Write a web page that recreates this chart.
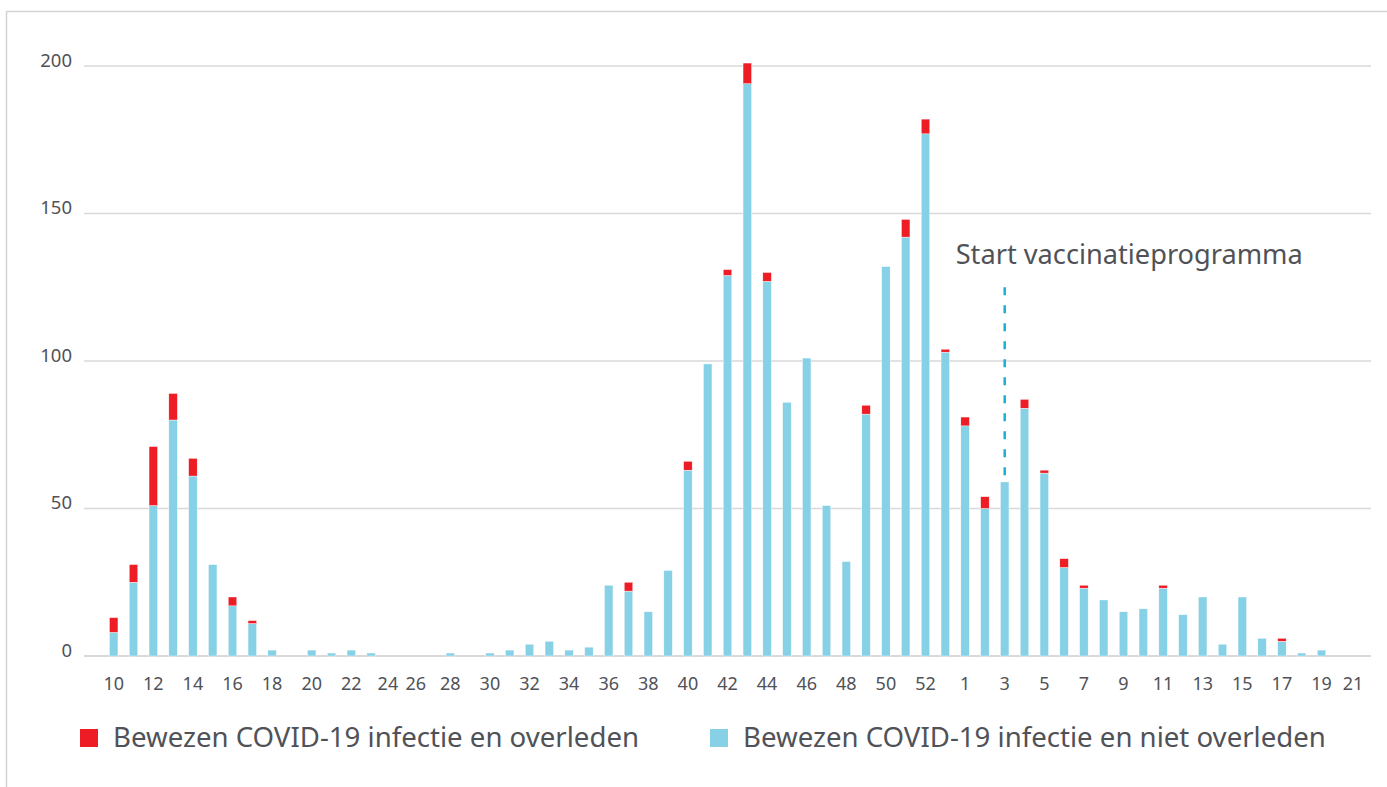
<!DOCTYPE html>
<html>
<head>
<meta charset="utf-8">
<script src="https://cdn.jsdelivr.net/npm/d3@7"></script>
<style>
  body { margin: 0; background: #fff; }
  svg { display: block; font-family: "Noto Sans", sans-serif; }
</style>
</head>
<body>
<div id="chart"></div>
<script>
// week numbers (week 25 of 2020 is absent in the source)
const weeks2020 = [10, 11, 12, 13, 14, 15, 16, 17, 18, 19, 20, 21, 22, 23, 24,
  26, 27, 28, 29, 30, 31, 32, 33, 34, 35, 36, 37, 38, 39, 40, 41, 42, 43, 44, 45,
  46, 47, 48, 49, 50, 51, 52, 53];
const weeks2021 = [1, 2, 3, 4, 5, 6, 7, 8, 9, 10, 11, 12, 13, 14, 15, 16, 17, 18, 19, 20, 21];

// proven infection, not deceased
const notDied2020 = [8, 25, 51, 80, 61, 31, 17, 11, 2, 0, 2, 1, 2, 1, 0,
  0, 0, 1, 0, 1, 2, 4, 5, 2, 3, 24, 22, 15, 29, 63, 99, 129, 194, 127, 86,
  101, 51, 32, 82, 132, 142, 177, 103];
const notDied2021 = [78, 50, 59, 84, 62, 30, 23, 19, 15, 16, 23, 14, 20, 4, 20, 6, 5, 1, 2, 0, 0];

// proven infection and deceased
const died2020 = [5, 6, 20, 9, 6, 0, 3, 1, 0, 0, 0, 0, 0, 0, 0,
  0, 0, 0, 0, 0, 0, 0, 0, 0, 0, 0, 3, 0, 0, 3, 0, 2, 7, 3, 0,
  0, 0, 0, 3, 0, 6, 5, 1];
const died2021 = [3, 4, 0, 3, 1, 3, 1, 0, 0, 0, 1, 0, 0, 0, 0, 0, 1, 0, 0, 0, 0];

// which weeks get a label on the x axis
const labelled2020 = [10, 12, 14, 16, 18, 20, 22, 24, 26, 28, 30, 32, 34, 36, 38,
  40, 42, 44, 46, 48, 50, 52];
const labelled2021 = [1, 3, 5, 7, 9, 11, 13, 15, 17, 19, 21];

const yTicks = [0, 50, 100, 150, 200];

const seriesNames = [
  "Bewezen COVID-19 infectie en overleden",
  "Bewezen COVID-19 infectie en niet overleden"
];

const annotationText = "Start vaccinatieprogramma";
const annotationKey = "2021-3";
const annotationRange = [61, 125];

const colors = { died: "#ee1d25", notDied: "#86d1e6", line: "#17b1d5", text: "#505257", grid: "#d9d9d9" };

const rows = [
  ...weeks2020.map((w, i) => ({ key: "2020-" + w, week: w, notDied: notDied2020[i], died: died2020[i] })),
  ...weeks2021.map((w, i) => ({ key: "2021-" + w, week: w, notDied: notDied2021[i], died: died2021[i] }))
];
const labelKeys = new Set([
  ...labelled2020.map((w) => "2020-" + w),
  ...labelled2021.map((w) => "2021-" + w)
]);

const width = 1387;
const height = 787;
const margin = { left: 84, right: 16, top: 66, bottom: 131 };

const svg = d3
  .select("#chart")
  .append("svg")
  .attr("width", width)
  .attr("height", height);

// outer frame
svg
  .append("rect")
  .attr("x", 6.5)
  .attr("y", 11.5)
  .attr("width", width + 10)
  .attr("height", height + 10)
  .attr("fill", "none")
  .attr("stroke", "#d4d4d4")
  .attr("stroke-width", 1.5);

const x = d3
  .scalePoint()
  .domain(rows.map((d) => d.key))
  .range([margin.left, width - margin.right])
  .padding(1)
  .align(0.75);

const y = d3
  .scaleLinear()
  .domain([0, 200])
  .range([height - margin.bottom, margin.top]);

const barWidth = x.step() * 0.43;

// grid lines + y labels
const gY = svg.append("g").attr("class", "y-axis");
gY.selectAll("line")
  .data(yTicks)
  .join("line")
  .attr("x1", margin.left)
  .attr("x2", width - margin.right)
  .attr("y1", (d) => y(d))
  .attr("y2", (d) => y(d))
  .attr("stroke", colors.grid)
  .attr("stroke-width", (d) => (d === 0 ? 2 : 1.5));
gY.selectAll("text")
  .data(yTicks)
  .join("text")
  .attr("x", 72)
  .attr("y", (d) => y(d))
  .attr("dy", "0.05em")
  .attr("text-anchor", "end")
  .attr("fill", colors.text)
  .attr("font-size", 18.5)
  .text((d) => d);

// stacked bars
const stack = d3.stack().keys(["notDied", "died"])(rows);
svg
  .append("g")
  .attr("class", "bars")
  .selectAll("g")
  .data(stack)
  .join("g")
  .attr("fill", (s) => colors[s.key])
  .selectAll("rect")
  .data((s) => s.filter((d) => d[1] > d[0]))
  .join("rect")
  .attr("x", (d) => x(d.data.key) - barWidth / 2)
  .attr("width", barWidth)
  .attr("y", (d) => y(d[1]))
  .attr("height", (d) => y(d[0]) - y(d[1]))
  .attr("stroke", "#fff")
  .attr("stroke-width", 0.4);

// x labels; a few are nudged apart like in the original
const nudge = { "2020-24": -3, "2020-26": 5, "2021-21": -8 };
svg
  .append("g")
  .attr("class", "x-axis")
  .selectAll("text")
  .data(rows.filter((d) => labelKeys.has(d.key)))
  .join("text")
  .attr("x", (d) => x(d.key) + (nudge[d.key] || 0))
  .attr("y", y(0) + 34)
  .attr("text-anchor", "middle")
  .attr("fill", colors.text)
  .attr("font-size", 18)
  .text((d) => d.week);

// vaccination annotation
svg
  .append("line")
  .attr("x1", x(annotationKey))
  .attr("x2", x(annotationKey))
  .attr("y1", y(annotationRange[1]))
  .attr("y2", y(annotationRange[0]))
  .attr("stroke", colors.line)
  .attr("stroke-width", 2.5)
  .attr("stroke-dasharray", "8,10");
svg
  .append("text")
  .attr("x", x(annotationKey) - 49)
  .attr("y", y(annotationRange[1]) - 23)
  .attr("fill", colors.text)
  .attr("font-size", 27.2)
  .text(annotationText);

// legend
const legend = svg
  .append("g")
  .attr("class", "legend")
  .selectAll("g")
  .data([
    { name: seriesNames[0], color: colors.died, x: 80 },
    { name: seriesNames[1], color: colors.notDied, x: 710 }
  ])
  .join("g")
  .attr("transform", (d) => `translate(${d.x},729)`);
legend
  .append("rect")
  .attr("width", 18)
  .attr("height", 18)
  .attr("fill", (d) => d.color);
legend
  .append("text")
  .attr("x", 33)
  .attr("y", 18)
  .attr("fill", colors.text)
  .attr("font-size", 27.6)
  .text((d) => d.name);
</script>
</body>
</html>
